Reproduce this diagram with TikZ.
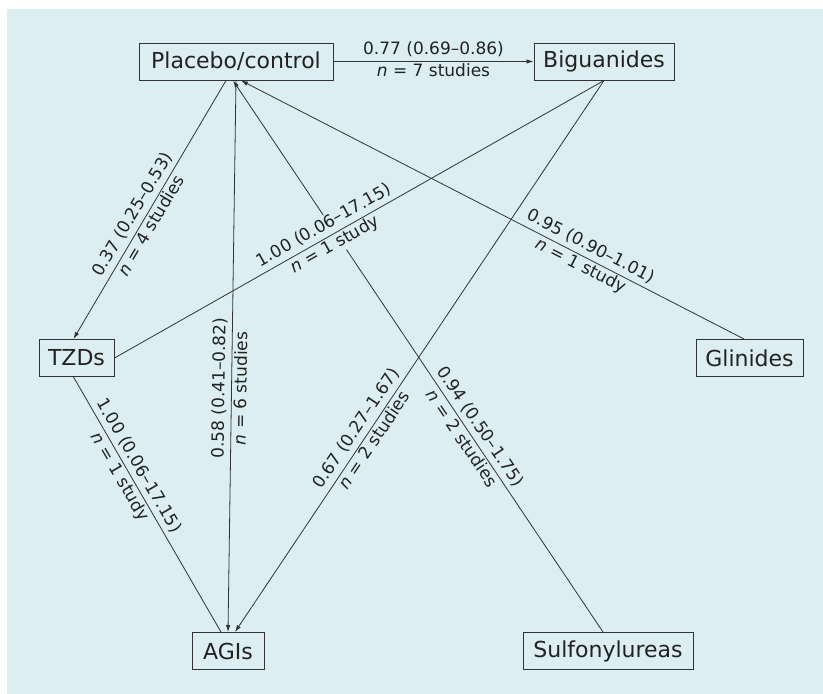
\documentclass[tikz,border=0pt]{standalone}
\usepackage{fontspec}
\setmainfont{DejaVu Sans}
\usetikzlibrary{arrows.meta}
\definecolor{panelbg}{RGB}{220,238,241}
\definecolor{inkgray}{RGB}{50,50,50}
\definecolor{textgray}{RGB}{34,34,34}
\begin{document}
\begin{tikzpicture}[x=1pt,y=-1pt,
  drug/.style={draw=inkgray, line width=1pt, fill=panelbg, minimum height=37pt,
    inner sep=0pt, text=textgray, font=\fontsize{22}{26}\selectfont},
  link/.style={draw=inkgray, line width=0.8pt},
  tip/.style={-{Latex[length=7pt,width=4.5pt]}},
  lbl/.style={sloped, fill=panelbg, inner xsep=1.5pt, inner ysep=0pt, outer sep=0pt,
    text=textgray, font=\fontsize{17}{20}\selectfont},
  est/.style={lbl, anchor=south, text height=14pt, text depth=7pt},
  cnt/.style={lbl, anchor=north, text height=15pt, text depth=5pt},
]
\useasboundingbox (0,0) rectangle (823,694);
\fill[panelbg] (7,9) rectangle (823,694);

% treatment boxes
\node[drug, minimum width=194pt] (P) at (236,61.5) {Placebo/control};
\node[drug, minimum width=140pt] (B) at (604,61.5) {Biguanides};
\node[drug, minimum width=75pt]  (T) at (76.5,358) {TZDs};
\node[drug, minimum width=107pt] (G) at (749.5,358) {Glinides};
\node[drug, minimum width=72pt]  (A) at (228,651) {AGIs};
\node[drug, minimum width=170pt] (S) at (608,651) {Sulfonylureas};

% reference points on the box borders
\coordinate (Pa) at ([xshift=-10pt]P.south);
\coordinate (Pb) at (P.south);
\coordinate (Pc) at ([xshift=-3pt]P.south);
\coordinate (Pd) at ([xshift=5pt]P.south);
\coordinate (Tn) at ([xshift=-3pt]T.north);
\coordinate (Ts) at ([xshift=-3pt]T.south);
\coordinate (Gn) at ([xshift=-5.5pt]G.north);
\coordinate (Sn) at ([xshift=-5pt]S.north);
\coordinate (Aa) at ([xshift=-7pt]A.north);
\coordinate (Ab) at (A.north);
\coordinate (Ac) at ([xshift=7pt]A.north);

% Placebo -> Biguanides
\path (P.east) -- (B.west) node[est,pos=0.5]{0.77 (0.69–0.86)} node[cnt,pos=0.5]{\textit{n} = 7 studies};
\draw[link,tip] (P.east) -- (B.west);

% Placebo -> TZDs
\path (Tn) -- (Pa) node[est,pos=0.457]{0.37 (0.25–0.53)} node[cnt,pos=0.457]{\textit{n} = 4 studies};
\draw[link,tip] (Pa) -- (Tn);

% Placebo -> AGIs
\path (Ab) -- (Pb) node[est,pos=0.442]{0.58 (0.41–0.82)} node[cnt,pos=0.442]{\textit{n} = 6 studies};
\draw[link,tip] (Pb) -- (Ab);

% Glinides -> Placebo
\path (Pd) -- (Gn) node[est,pos=0.684]{0.95 (0.90–1.01)} node[cnt,pos=0.684]{\textit{n} = 1 study};
\draw[link,tip] (Gn) -- (Pd);

% Biguanides -> AGIs
\path (Ac) -- (B.south) node[est,pos=0.357]{0.67 (0.27–1.67)} node[cnt,pos=0.357]{\textit{n} = 2 studies};
\draw[link,tip] (B.south) -- (Ac);

% TZDs -- AGIs
\path (Ts) -- (Aa) node[est,pos=0.372]{1.00 (0.06–17.15)} node[cnt,pos=0.372]{\textit{n} = 1 study};
\draw[link] (Ts) -- (Aa);

% Sulfonylureas -> Placebo
\path (Pc) -- (Sn) node[est,pos=0.64]{0.94 (0.50–1.75)} node[cnt,pos=0.64]{\textit{n} = 2 studies};
\draw[link,tip] (Sn) -- (Pc);

% TZDs -- Biguanides (its label masks the crossing line)
\path (T.east) -- (B.south) node[est,pos=0.44]{1.00 (0.06–17.15)} node[cnt,pos=0.44]{\textit{n} = 1 study};
\draw[link] (T.east) -- (B.south);
\end{tikzpicture}
\end{document}
